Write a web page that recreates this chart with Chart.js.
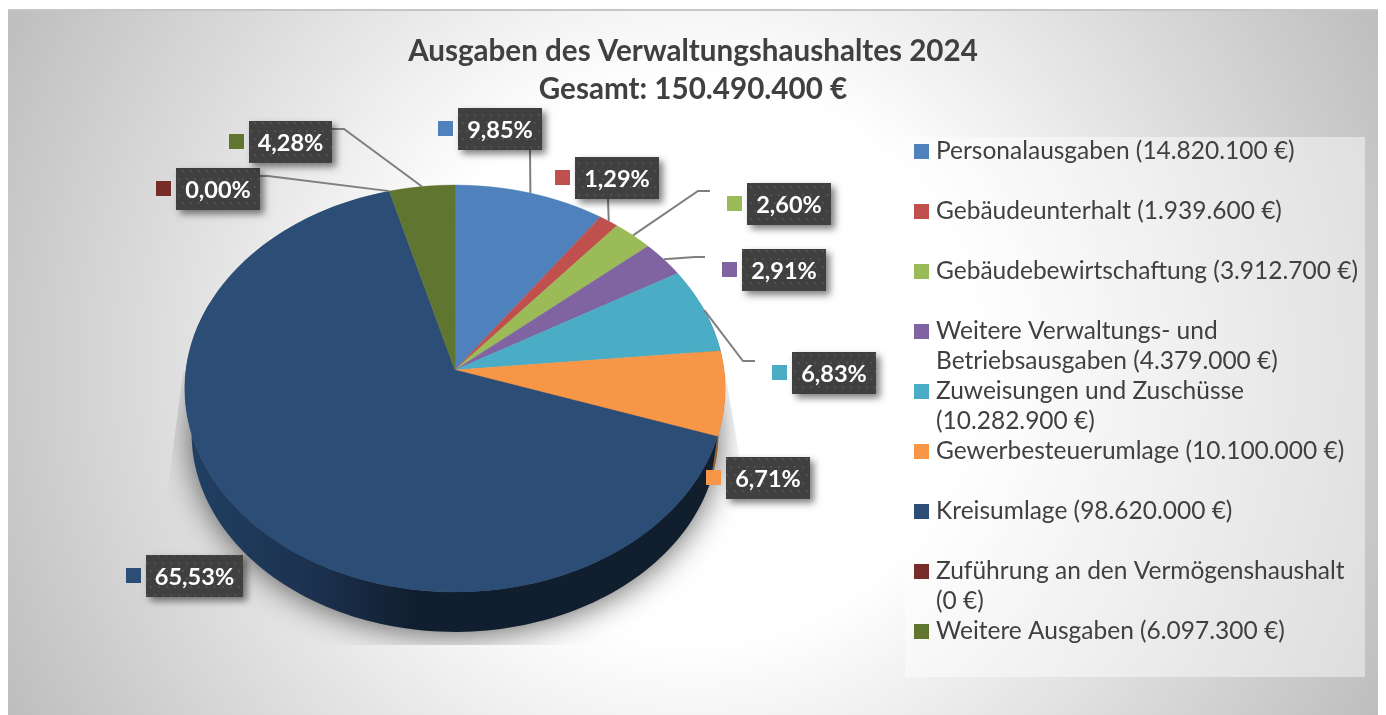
<!DOCTYPE html>
<html lang="de">
<head>
<meta charset="utf-8">
<title>Ausgaben des Verwaltungshaushaltes 2024</title>
<script src="https://cdn.jsdelivr.net/npm/chart.js@4"></script>
<style>
  html, body { margin: 0; padding: 0; background: #fff; }
  canvas { display: block; }
</style>
</head>
<body>
<canvas id="chartAusgaben" width="1386" height="715"></canvas>
<script>
// Daten
const titleLines = ['Ausgaben des Verwaltungshaushaltes 2024', 'Gesamt: 150.490.400 €'];
const categoryLines = [
    ['Personalausgaben (14.820.100 €)'],
    ['Gebäudeunterhalt (1.939.600 €)'],
    ['Gebäudebewirtschaftung (3.912.700 €)'],
    ['Weitere Verwaltungs- und', 'Betriebsausgaben (4.379.000 €)'],
    ['Zuweisungen und Zuschüsse', '(10.282.900 €)'],
    ['Gewerbesteuerumlage (10.100.000 €)'],
    ['Kreisumlage (98.620.000 €)'],
    ['Zuführung an den Vermögenshaushalt', '(0 €)'],
    ['Weitere Ausgaben (6.097.300 €)']
];
const percentValues = [9.85, 1.29, 2.60, 2.91, 6.83, 6.71, 65.53, 0, 4.28];
const sliceColors = ['#4f81bd', '#c0504d', '#9bbb59', '#8064a2', '#4bacc6', '#f79646', '#2c4d75', '#772c2a', '#5f7530'];

// Lage der Beschriftungen: [links, oben, breite], dazu Knickpunkte der Führungslinien
const labelSpots = [
    [458, 108, 84], [575, 157, 84], [747, 183, 84], [742, 249, 84], [792, 352, 84],
    [726, 457, 84], [146, 555, 97], [176, 168, 84], [249, 121, 83]
];
const leaderBends = [
    [[530, 150]], [[608, 199]], [[710, 191], [698, 191]], [[705, 257], [695, 257]],
    [[755, 361], [743, 361]], null, null, [[260, 176], [268, 176]], [[332, 129], [344, 129]]
];

// Perspektive der Kreisfläche
const apexX = 455, apexY = 370, persp = 0.0909, radX = 269, radY = 201.8;
const FONT = 'Lato, Carlito, "Open Sans", sans-serif';

function rimPoint(theta) {
    const d = 1 + persp * Math.cos(theta);
    return [apexX + radX * Math.sin(theta) / d, apexY - radY * Math.cos(theta) / d];
}
function lowerPoint(p) {
    return [apexX + (p[0] - apexX) * 0.975, 388 + (p[1] - 388) * 0.975 + 45];
}
function darken(hex, f) {
    const n = parseInt(hex.slice(1), 16);
    return `rgb(${(n >> 16) * f | 0},${((n >> 8) & 255) * f | 0},${(n & 255) * f | 0})`;
}
function polygon(ctx, pts) {
    ctx.beginPath();
    pts.forEach((p, i) => i ? ctx.lineTo(p[0], p[1]) : ctx.moveTo(p[0], p[1]));
    ctx.closePath();
}

// Legendensymbole als kleine Canvas, damit der Abstand zum Text passt
const swatches = sliceColors.map(c => {
    const cv = document.createElement('canvas');
    cv.width = 15; cv.height = 15;
    const g = cv.getContext('2d');
    g.fillStyle = c;
    g.fillRect(0, 0, 15, 15);
    return cv;
});

// Punktraster der dunklen Schilder
const dotCanvas = document.createElement('canvas');
dotCanvas.width = 16; dotCanvas.height = 16;
(function () {
    const g = dotCanvas.getContext('2d');
    g.fillStyle = '#404040';
    g.fillRect(0, 0, 16, 16);
    g.fillStyle = '#515151';
    [[2, 2], [10, 2], [6, 10], [14, 10]].forEach(p => g.fillRect(p[0], p[1], 2, 2));
})();

const backdrop = {
    id: 'backdrop',
    beforeDraw(chart) {
        const ctx = chart.ctx;
        const grad = ctx.createRadialGradient(693, 362, 0, 693, 362, 775);
        grad.addColorStop(0, '#ffffff');
        grad.addColorStop(0.36, '#ffffff');
        grad.addColorStop(1, '#bdbdbd');
        ctx.save();
        ctx.fillStyle = grad;
        ctx.fillRect(8, 10, 1370, 705);
        ctx.fillStyle = '#c6c6c6';
        ctx.fillRect(8, 9, 1370, 2);
        ctx.fillStyle = 'rgba(255,255,255,0.45)';
        ctx.fillRect(905, 137, 460, 540);
        ctx.restore();
    },
    afterLayout(chart) {
        // Legende an ihren festen Platz rechts
        const l = chart.legend;
        l.left = 904.25; l.right = 1378; l.top = 124.25; l.bottom = 700;
    }
};

const pie3d = {
    id: 'pie3d',
    beforeDatasetDraw(chart, args) {
        const ctx = chart.ctx;
        const arcs = args.meta.data;
        const full = [];
        for (let i = 0; i < 240; i++) full.push(lowerPoint(rimPoint(i / 240 * Math.PI * 2)));

        // Schlagschatten, nur im Keil unter der Torte
        ctx.save();
        polygon(ctx, [[183, 372], [725, 372], [772, 645], [147, 645]]);
        ctx.clip();
        ctx.shadowColor = 'rgba(0,0,0,0.62)';
        ctx.shadowBlur = 32;
        ctx.shadowOffsetY = 2;
        ctx.fillStyle = '#888';
        polygon(ctx, full);
        ctx.fill();
        ctx.restore();

        // Seitenwand
        const sideFrom = 70 * Math.PI / 180, sideTo = 290 * Math.PI / 180;
        arcs.forEach((arc, i) => {
            const from = Math.max(arc.startAngle + Math.PI / 2, sideFrom);
            const to = Math.min(arc.endAngle + Math.PI / 2, sideTo);
            if (to <= from) return;
            const top = [], low = [];
            for (let s = 0; s <= 120; s++) {
                const p = rimPoint(from + (to - from) * s / 120);
                top.push(p);
                low.push(lowerPoint(p));
            }
            polygon(ctx, top.concat(low.reverse()));
            if (sliceColors[i] === '#2c4d75') {
                const g = ctx.createLinearGradient(190, 0, 720, 0);
                g.addColorStop(0, '#214063');
                g.addColorStop(0.25, '#1b304d');
                g.addColorStop(0.42, '#111e2f');
                g.addColorStop(1, '#101e2e');
                ctx.fillStyle = g;
            } else {
                ctx.fillStyle = darken(sliceColors[i], 0.62);
            }
            ctx.fill();
        });

        // Deckfläche in 1px-Streifen perspektivisch aus den Bögen zeichnen
        const first = arcs[0], R = first.outerRadius, cx = first.x, cy = first.y;
        for (let y = 183; y < 594; y++) {
            const t = (apexY - (y + 0.5)) / radY;
            const v = t / (1 - persp * t);
            const d = 1 + persp * v;
            ctx.save();
            ctx.beginPath();
            ctx.rect(0, y, chart.width, 1);
            ctx.clip();
            ctx.transform(radX / R / d, 0, 0, radY / R / (d * d),
                apexX - cx * radX / R / d,
                y + 0.5 - (cy - R * v) * radY / R / (d * d));
            arcs.forEach(a => a.draw(ctx));
            ctx.restore();
        }
        return false;
    },
    afterDatasetsDraw(chart) {
        const ctx = chart.ctx;
        const arcs = chart.getDatasetMeta(0).data;
        ctx.save();
        // Führungslinien: Ende liegt auf der Mitte des jeweiligen Segments
        ctx.strokeStyle = '#7f7f7f';
        ctx.lineWidth = 2;
        arcs.forEach((arc, i) => {
            if (!leaderBends[i]) return;
            const mid = (arc.startAngle + arc.endAngle) / 2 + Math.PI / 2;
            const pts = leaderBends[i].concat([rimPoint(mid)]);
            ctx.beginPath();
            pts.forEach((p, j) => j ? ctx.lineTo(p[0], p[1]) : ctx.moveTo(p[0], p[1]));
            ctx.stroke();
        });
        // Schilder mit Prozentwert
        const dots = ctx.createPattern(dotCanvas, 'repeat');
        percentValues.forEach((val, i) => {
            const [x, y, w] = labelSpots[i];
            const h = 42;
            ctx.save();
            ctx.shadowColor = 'rgba(0,0,0,0.5)';
            ctx.shadowBlur = 7;
            ctx.shadowOffsetX = 4;
            ctx.shadowOffsetY = 4;
            ctx.fillStyle = '#404040';
            ctx.fillRect(x, y, w, h);
            ctx.restore();
            ctx.fillStyle = dots;
            ctx.fillRect(x, y, w, h);
            ctx.fillStyle = sliceColors[i];
            ctx.fillRect(x - 20, y + 13, 15, 15);
            ctx.fillStyle = '#ffffff';
            ctx.font = 'bold 23.5px ' + FONT;
            ctx.textAlign = 'center';
            ctx.textBaseline = 'middle';
            ctx.fillText(val.toFixed(2).replace('.', ',') + '%', x + w / 2, y + h / 2 + 1);
        });
        ctx.restore();
    }
};

new Chart(document.getElementById('chartAusgaben'), {
    type: 'pie',
    data: {
        labels: categoryLines.map(l => l.join(' ')),
        datasets: [{
            data: percentValues,
            backgroundColor: sliceColors,
            borderColor: sliceColors,
            borderWidth: 0.6
        }]
    },
    options: {
        responsive: false,
        animation: false,
        layout: { padding: { left: 20, right: 20, bottom: 20 } },
        plugins: {
            title: {
                display: true,
                text: titleLines,
                color: '#404040',
                font: { family: FONT, size: 29.6, weight: 'bold', lineHeight: 38 / 29.6 },
                padding: { top: 32, bottom: 10 }
            },
            legend: {
                position: 'right',
                align: 'start',
                labels: {
                    usePointStyle: true,
                    pointStyleWidth: 4.5,
                    boxHeight: 15,
                    padding: 15,
                    color: '#404040',
                    font: { family: FONT, size: 24.5, lineHeight: 15 / 24.5 },
                    generateLabels: () => categoryLines.map((l, i) => ({
                        text: [l[0], '', l[1] || ''],
                        fillStyle: sliceColors[i],
                        strokeStyle: sliceColors[i],
                        lineWidth: 0,
                        pointStyle: swatches[i],
                        fontColor: '#404040',
                        hidden: false,
                        index: i
                    }))
                }
            },
            tooltip: { enabled: false }
        }
    },
    plugins: [backdrop, pie3d]
});
</script>
</body>
</html>
